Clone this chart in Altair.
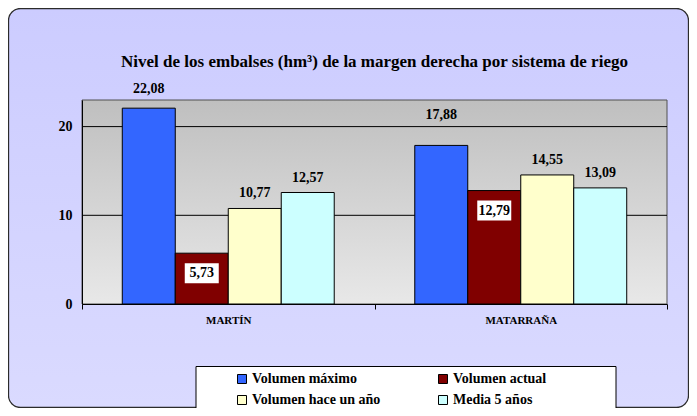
import altair as alt
import pandas as pd

sistemas = ["MARTÍN", "MATARRAÑA"]
series = ["Volumen máximo", "Volumen actual", "Volumen hace un año", "Media 5 años"]
colores = ["#3366ff", "#800000", "#ffffcc", "#ccffff"]
martin = [22.08, 5.73, 10.77, 12.57]
matarrana = [17.88, 12.79, 14.55, 13.09]
ticks_y = [0, 10, 20]
grid_y = [10, 20]
titulo = "Nivel de los embalses (hm³) de la margen derecha por sistema de riego"
# legend is laid out column by column: this order gives rows
# (máximo, actual) and (hace un año, media)
orden_leyenda = [0, 2, 1, 3]

rows = []
for s, vals in zip(sistemas, [martin, matarrana]):
    for serie, v in zip(series, vals):
        rows.append({"sistema": s, "serie": serie, "valor": v})
df = pd.DataFrame(rows)

W, H = 585, 204
FONT = "Liberation Serif"

yscale = alt.Scale(domain=[0, 23], nice=False)
yaxis = alt.Axis(title=None, values=ticks_y, grid=False, ticks=False, tickSize=0,
                 labelPadding=10, domainColor="black", labelFont=FONT, labelFontSize=14,
                 labelFontWeight="bold", labelColor="black", zindex=1)
x_enc = alt.X("sistema:N", sort=sistemas,
              scale=alt.Scale(paddingInner=0, paddingOuter=0),
              axis=alt.Axis(title=None, labelAngle=0, tickBand="extent", ticks=True, tickSize=5,
                            tickColor="black", domainColor="black", labelFont=FONT,
                            labelFontSize=11, labelFontWeight="bold", labelColor="black",
                            labelPadding=5, zindex=1))
xo_enc = alt.XOffset("serie:N", sort=series,
                     scale=alt.Scale(paddingInner=0, paddingOuter=0.76))
y_enc = alt.Y("valor:Q", scale=yscale, axis=yaxis)
color_enc = alt.Color("serie:N",
                      scale=alt.Scale(domain=[series[i] for i in orden_leyenda],
                                      range=[colores[i] for i in orden_leyenda]),
                      legend=alt.Legend(title=None, orient="none", legendX=153, legendY=272,
                                        columns=2, columnPadding=55, rowPadding=7,
                                        symbolType="square", symbolSize=81,
                                        symbolStrokeColor="black", symbolStrokeWidth=1,
                                        symbolOpacity=1, labelFont=FONT, labelFontSize=14,
                                        labelFontWeight="bold", labelColor="black",
                                        labelOffset=3, padding=0, zindex=1))

one = alt.Data(values=[{"k": 1}])

frame = alt.Chart(one).mark_rect(
    cornerRadius=12, stroke="#2b2b2b", strokeWidth=1.3,
    fill=alt.Gradient(gradient="linear", x1=0, x2=0, y1=0, y2=1,
                      stops=[alt.GradientStop(color="#ccccff", offset=0),
                             alt.GradientStop(color="#dadaff", offset=1)])
).encode(x=alt.value(-73.5), x2=alt.value(606.5), y=alt.value(-91.5), y2=alt.value(307.5))

plotbg = alt.Chart(one).mark_rect(
    stroke="#505050", strokeWidth=1,
    fill=alt.Gradient(gradient="linear", x1=0, x2=0, y1=0, y2=1,
                      stops=[alt.GradientStop(color="#bfbfbf", offset=0),
                             alt.GradientStop(color="#e8e8e8", offset=1)])
).encode(x=alt.value(0), x2=alt.value(W), y=alt.value(0), y2=alt.value(H))

grid = alt.Chart(pd.DataFrame({"v": grid_y})).mark_rule(color="black", strokeWidth=1).encode(
    y=alt.Y("v:Q", scale=yscale, axis=yaxis))

legbox = alt.Chart(one).mark_rect(fill="white", stroke="black", strokeWidth=1).encode(
    x=alt.value(114), x2=alt.value(534), y=alt.value(266.5), y2=alt.value(330))

bars = alt.Chart(df).mark_bar(stroke="black", strokeWidth=1, opacity=1).encode(
    x=x_enc, xOffset=xo_enc, y=y_enc, color=color_enc)

base = alt.Chart(df).transform_calculate(lbl="replace(format(datum.valor, '.2f'), '.', ',')")
tk = dict(font=FONT, fontSize=14, fontWeight="bold", color="black")

lab_above = base.transform_filter(
    "datum.serie == 'Volumen hace un año' || datum.serie == 'Media 5 años'"
).mark_text(dy=-15, **tk).encode(x=x_enc, xOffset=xo_enc, y=y_enc, text="lbl:N")

lab_max1 = base.transform_filter(
    "datum.serie == 'Volumen máximo' && datum.sistema == 'MARTÍN'"
).mark_text(dy=-19, **tk).encode(x=x_enc, xOffset=xo_enc, y=y_enc, text="lbl:N")

lab_max2 = base.transform_filter(
    "datum.serie == 'Volumen máximo' && datum.sistema == 'MATARRAÑA'"
).mark_text(dy=-30, **tk).encode(x=x_enc, xOffset=xo_enc, y=y_enc, text="lbl:N")

box = base.transform_filter("datum.serie == 'Volumen actual'").mark_point(
    shape="M-1.7,-1H1.7V1H-1.7Z", filled=True, color="white", opacity=1, size=400,
    yOffset=20, strokeWidth=0
).encode(x=x_enc, xOffset=xo_enc, y=y_enc)

lab_in = base.transform_filter("datum.serie == 'Volumen actual'").mark_text(
    dy=20, **tk).encode(x=x_enc, xOffset=xo_enc, y=y_enc, text="lbl:N")

chart = alt.layer(
    frame, plotbg, grid, legbox, bars, box, lab_above, lab_max1, lab_max2, lab_in
).properties(
    width=W, height=H,
    padding={"left": 74, "top": 92, "right": 22, "bottom": 104},
    autosize=alt.AutoSizeParams(type="none"),
    background="white",
    title=alt.TitleParams(titulo, font=FONT, fontSize=17, fontWeight="bold", color="black",
                          anchor="middle", offset=-63, zindex=1),
).configure_view(strokeWidth=0)

chart.save("out.html", embed_options={"renderer": "svg", "actions": False})
